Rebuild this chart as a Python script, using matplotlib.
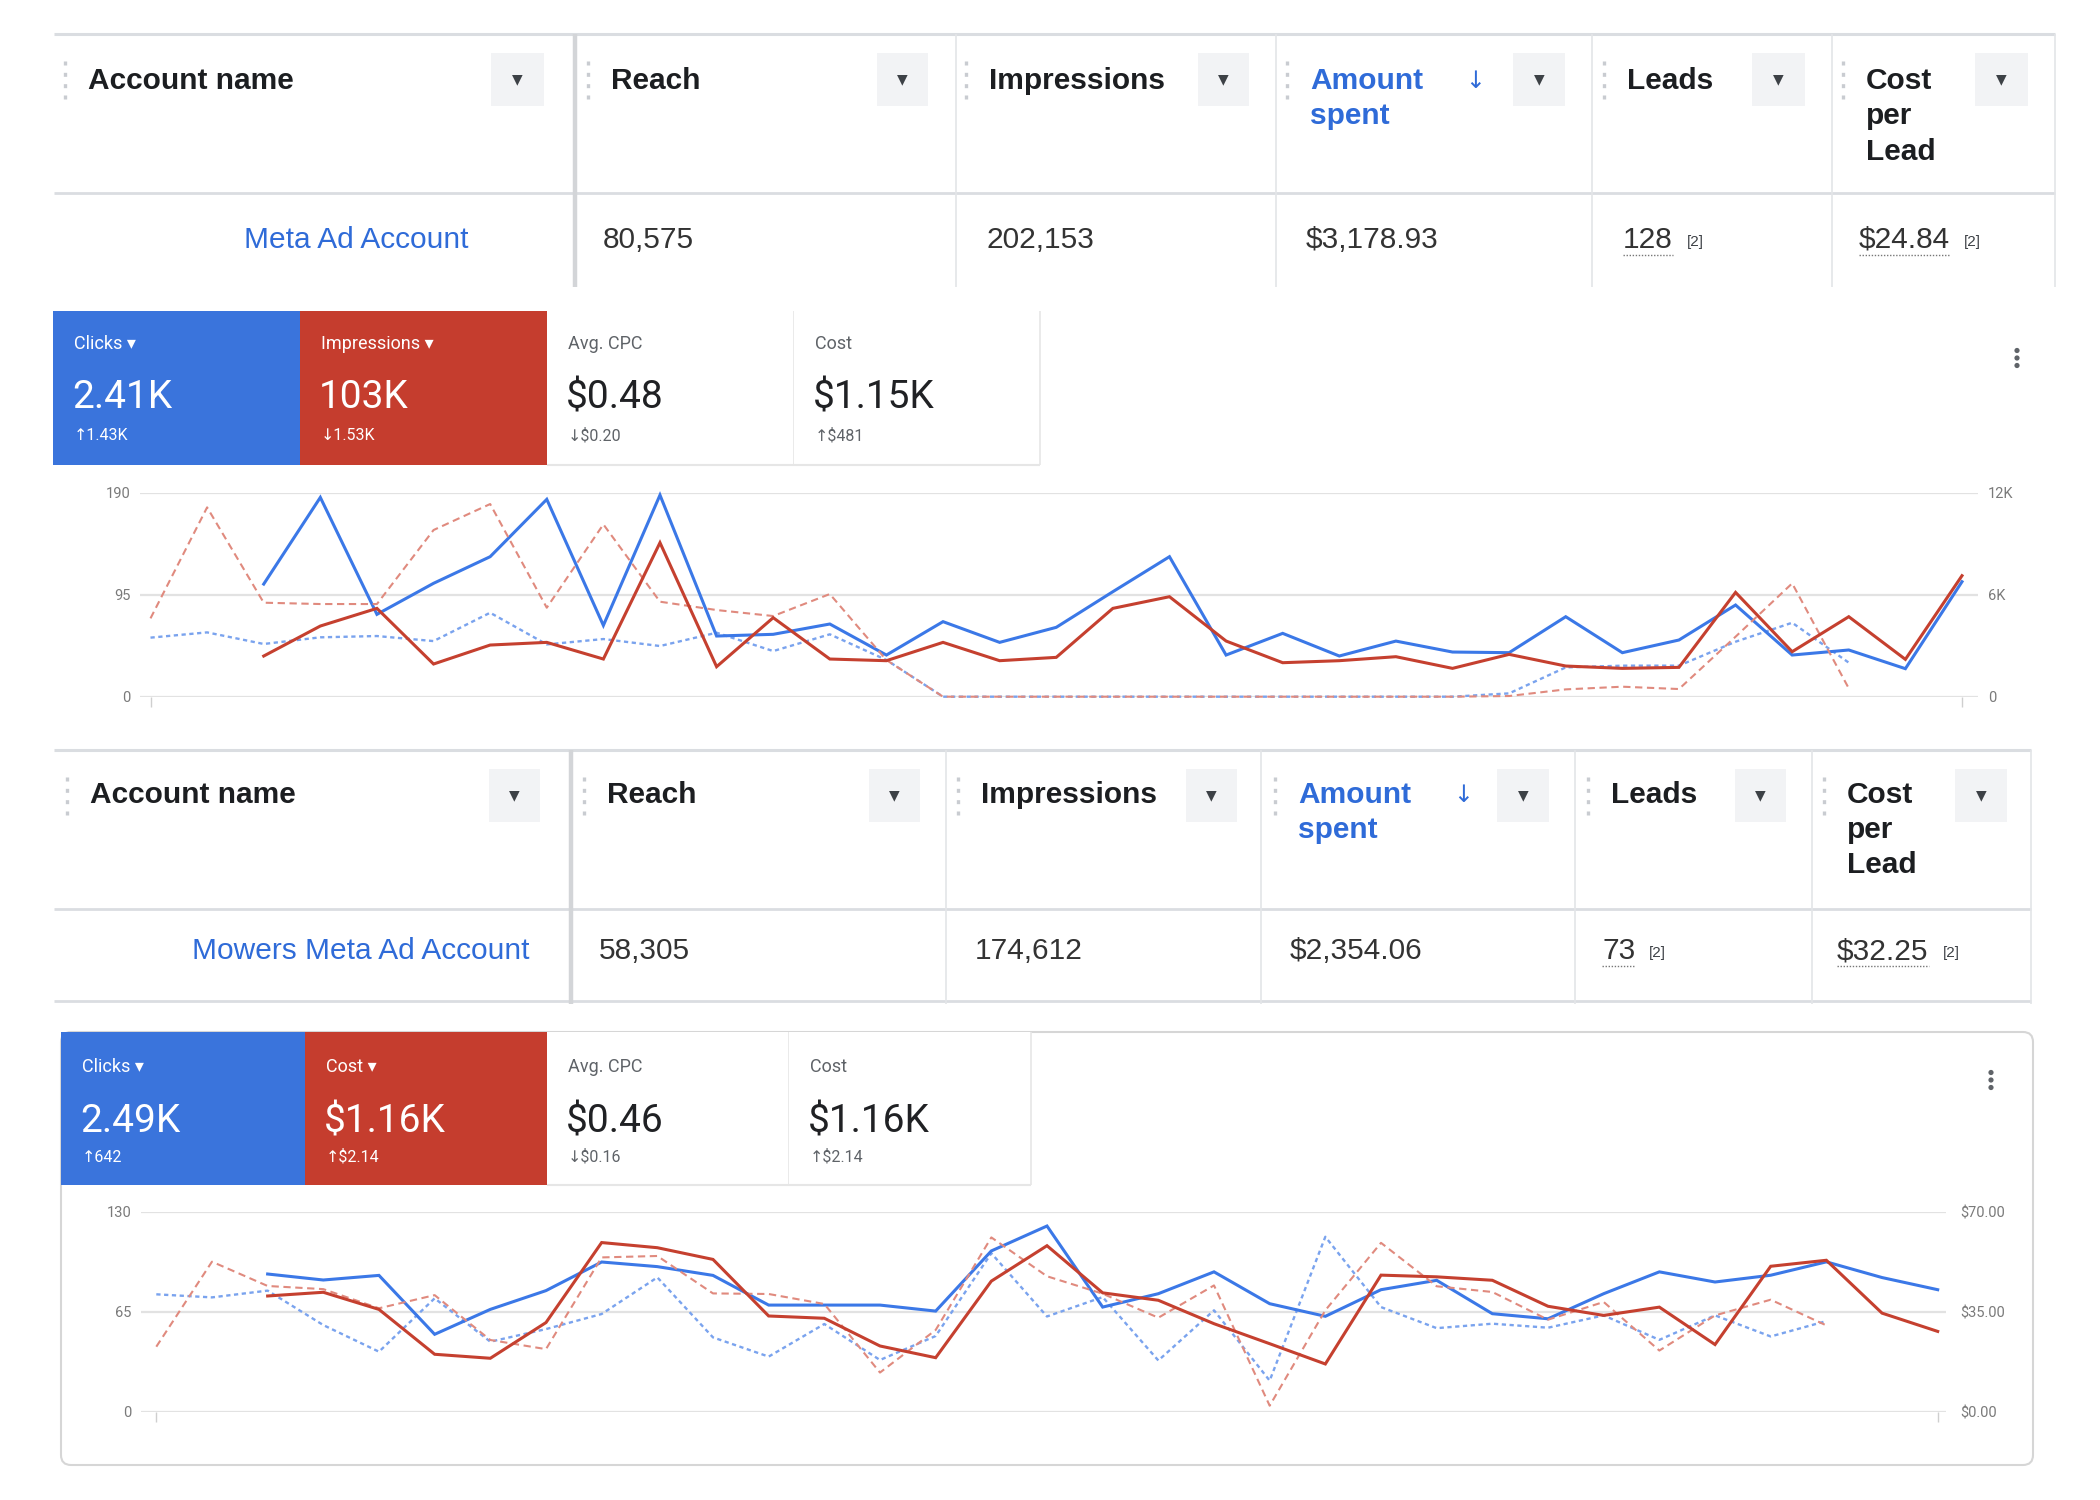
import matplotlib
matplotlib.use("Agg")
import matplotlib.pyplot as plt
from matplotlib.patches import Rectangle, FancyBboxPatch, Circle
import numpy as np

nan = np.nan

# ---------------- data ----------------
day_index = list(range(33))

# table 1
t1_headers = ["Account name", "Reach", "Impressions", "Amount\nspent", "Leads", "Cost\nper\nLead"]
t1_values = ["Meta Ad Account", "80,575", "202,153", "$3,178.93", "128", "$24.84"]
# table 2
t2_headers = ["Account name", "Reach", "Impressions", "Amount\nspent", "Leads", "Cost\nper\nLead"]
t2_values = ["Mowers Meta Ad Account", "58,305", "174,612", "$2,354.06", "73", "$32.25"]

# scorecards
s1_labels = ["Clicks \u25BE", "Impressions \u25BE", "Avg. CPC", "Cost"]
s1_values = ["2.41K", "103K", "$0.48", "$1.15K"]
s1_deltas = ["\u21911.43K", "\u21931.53K", "\u2193$0.20", "\u2191$481"]
s2_labels = ["Clicks \u25BE", "Cost \u25BE", "Avg. CPC", "Cost"]
s2_values = ["2.49K", "$1.16K", "$0.46", "$1.16K"]
s2_deltas = ["\u2191642", "\u2191$2.14", "\u2193$0.16", "\u2191$2.14"]

# chart 1: clicks (left axis) / impressions (right axis), current and previous period
c1_left_ticks = [0, 95, 190]
c1_left_labels = ["0", "95", "190"]
c1_right_ticks = [0, 6000, 12000]
c1_right_labels = ["0", "6K", "12K"]
c1_clicks = [nan, nan, 104.9, 185.6, 76.7, 105.6, 130.4, 183.8, 66.4, 187.8, 56.5,
             58.1, 67.7, 38.8, 69.9, 50.6, 64.6, 97.8, 130.4, 38.8, 59.0, 37.9,
             51.8, 41.6, 41.0, 74.5, 41.0, 52.8, 85.4, 38.8, 43.5, 26.1, 107.1]
c1_impr = [nan, nan, 2392, 4157, 5196, 1922, 3039, 3196, 2216, 9059, 1765,
           4647, 2216, 2118, 3196, 2118, 2314, 5196, 5882, 3275, 2000, 2118,
           2353, 1667, 2490, 1804, 1667, 1725, 6137, 2647, 4706, 2196, 7118]
c1_clicks_prev = [55.0, 59.9, 49.1, 55.3, 56.5, 51.8, 78.2, 48.7, 53.7, 47.2, 59.6,
                  42.5, 58.1, 34.2, 0, 0, 0, 0, 0, 0, 0, 0,
                  0, 0, 3.1, 27.3, 28.9, 28.9, 51.2, 68.9, 31.7, nan, nan]
c1_impr_prev = [4608, 11137, 5529, 5451, 5451, 9804, 11333, 5235, 10137, 5588, 5098,
                4745, 6039, 2157, 0, 0, 0, 0, 0, 0, 0, 0,
                0, 0, 40, 431, 588, 451, 3529, 6667, 490, nan, nan]

# chart 2: clicks (left axis) / cost (right axis)
c2_left_ticks = [0, 65, 130]
c2_left_labels = ["0", "65", "130"]
c2_right_ticks = [0, 35, 70]
c2_right_labels = ["$0.00", "$35.00", "$70.00"]
c2_clicks = [nan, nan, 89.5, 85.6, 88.6, 50.3, 66.5, 78.7, 97.3, 94.3, 88.6,
             69.3, 69.3, 69.3, 65.4, 104.5, 120.7, 68.0, 76.7, 90.9, 70.2, 62.0,
             79.3, 85.4, 63.7, 60.4, 76.7, 90.9, 84.3, 88.7, 97.4, 87.2, 79.3]
c2_cost = [nan, nan, 40.5, 41.8, 35.8, 20.1, 18.7, 31.2, 59.2, 57.4, 53.3,
           33.5, 32.7, 23.0, 18.9, 45.7, 58.1, 41.6, 39.0, 30.8, 23.8, 16.7,
           47.8, 47.2, 46.0, 36.9, 33.7, 36.6, 23.5, 50.9, 53.0, 34.5, 28.1]
c2_clicks_prev = [76.3, 74.3, 78.7, 56.3, 39.0, 73.7, 45.5, 53.7, 63.5, 87.3, 48.3,
                  35.8, 57.0, 33.6, 49.2, 103.0, 61.9, 74.5, 33.3, 65.9, 20.2, 113.7,
                  68.0, 54.3, 57.2, 54.6, 62.6, 46.7, 62.6, 48.9, 58.9, nan, nan]
c2_cost_prev = [22.75, 52.5, 44.0, 42.9, 36.2, 40.8, 25.1, 21.9, 54.0, 54.5, 41.4,
                41.2, 37.7, 13.7, 28.6, 61.0, 47.4, 41.3, 32.9, 44.2, 2.1, 35.5,
                59.1, 43.9, 41.9, 32.2, 38.4, 21.4, 33.7, 39.2, 30.2, nan, nan]

# ---------------- styles ----------------
W, H = 2100, 1500
BLUE_CARD = "#3a74dc"
RED_CARD = "#c53d2e"
BLUE_LINE = "#3b78e7"
RED_LINE = "#c5402f"
BLUE_PREV = "#7aa3ee"
RED_PREV = "#e08a7e"
LINK = "#2f6bd8"
TFONT = ["Liberation Sans", "DejaVu Sans"]
GFONT = ["Roboto", "DejaVu Sans"]
TSIZE = 21.5

plt.rcParams["font.family"] = GFONT

fig = plt.figure(figsize=(W / 100, H / 100), dpi=100)
fig.patch.set_facecolor("white")
bg = fig.add_axes([0, 0, 1, 1])
bg.set_xlim(0, W)
bg.set_ylim(H, 0)
bg.axis("off")


def hline(y, x0, x1, color="#dddfe2", lw=1.6):
    bg.plot([x0, x1], [y, y], color=color, lw=lw, solid_capstyle="butt")


def vline(x, y0, y1, color="#dddfe2", lw=1.2):
    bg.plot([x, x], [y0, y1], color=color, lw=lw, solid_capstyle="butt")


def dropdown(x0, x1, y0, y1):
    bg.add_patch(Rectangle((x0, y0), x1 - x0, y1 - y0, facecolor="#f2f3f5", edgecolor="none"))
    bg.text((x0 + x1) / 2, (y0 + y1) / 2, "\u25BC", fontsize=10, color="#3d4146",
            ha="center", va="center", family="DejaVu Sans")


def handle(x, y0, y1):
    bg.plot([x, x], [y0, y1], color="#c9ccd1", lw=2.4, linestyle=(0, (1.2, 2.2)))


def draw_table(top, head_bot, bottom, dividers, handles, drops, drop_y, head_y, line_gap,
               headers, values, name_right, val_x, data_y, bottom_line):
    left, right = 54, dividers[-1]
    hline(top, left, right, color="#dadde1", lw=2.2)
    hline(head_bot, left, right, color="#dadde1", lw=2.0)
    if bottom_line:
        hline(bottom, left, right, color="#dadde1", lw=2.0)
    for i, x in enumerate(dividers):
        if i == 0:
            vline(x, top, bottom + 3, color="#d3d5d8", lw=3.2)
        else:
            vline(x, top, bottom + 3, color="#e3e5e8", lw=1.2)
    for (a, b) in drops:
        dropdown(a, b, drop_y[0], drop_y[1])
    for i, (hx, htxt) in enumerate(zip(handles, headers)):
        handle(hx, drop_y[0] + 8, drop_y[1] - 6)
        color = LINK if "Amount" in htxt else "#1c1e21"
        lines = htxt.split("\n")
        for k, ln in enumerate(lines):
            bg.text(hx + 23, head_y + k * line_gap, ln, fontsize=TSIZE, fontweight="bold",
                    color=color, family=TFONT, ha="left", va="center")
        if "Amount" in htxt:
            bg.text(hx + 178, head_y, "\u2193", fontsize=17, color=LINK,
                    family="DejaVu Sans", ha="left", va="center")
    # data row
    bg.text(name_right, data_y, values[0], fontsize=TSIZE, color=LINK, family=TFONT,
            ha="right", va="center")
    renderer = fig.canvas.get_renderer()
    inv = bg.transData.inverted()
    for j, (vx, v) in enumerate(zip(val_x, values[1:])):
        t = bg.text(vx, data_y, v, fontsize=TSIZE, color="#333333", family=TFONT,
                    ha="left", va="center")
        if j >= 3:
            bb = t.get_window_extent(renderer=renderer)
            (xa, ya), (xb, yb) = inv.transform([[bb.x0, bb.y0], [bb.x1, bb.y1]])
            ylow = max(ya, yb)
            bg.plot([xa, xb], [ylow + 1, ylow + 1], color="#777777", lw=1.0,
                    linestyle=(0, (1, 1.2)))
            bg.text(xb + 14, data_y + 2, "[2]", fontsize=11, color="#3d4146",
                    family=TFONT, ha="left", va="center")


# ---- table 1 ----
draw_table(top=34, head_bot=193, bottom=284,
           dividers=[575, 956, 1276, 1592, 1832, 2055],
           handles=[65, 588, 966, 1287, 1604, 1843],
           drops=[(491, 544), (877, 928), (1198, 1249), (1513, 1565), (1752, 1805), (1975, 2028)],
           drop_y=(53, 106), head_y=81, line_gap=35.5,
           headers=t1_headers, values=t1_values, name_right=468,
           val_x=[603, 986, 1306, 1623, 1859], data_y=240, bottom_line=False)

# ---- table 2 ----
draw_table(top=750, head_bot=909, bottom=1001,
           dividers=[571, 946, 1261, 1575, 1812, 2031],
           handles=[67, 584, 958, 1275, 1588, 1824],
           drops=[(489, 540), (869, 920), (1186, 1237), (1497, 1549), (1735, 1786), (1955, 2007)],
           drop_y=(769, 822), head_y=795, line_gap=35,
           headers=t2_headers, values=t2_values, name_right=530,
           val_x=[599, 975, 1290, 1602, 1837], data_y=951, bottom_line=True)


# ---- scorecards ----
def scorecards(xs, top, bot, labels, values, deltas, lab_y, val_y, del_y):
    fills = [BLUE_CARD, RED_CARD, "white", "white"]
    for i in range(4):
        x0, x1 = xs[i], xs[i + 1]
        bg.add_patch(Rectangle((x0, top), x1 - x0, bot - top, facecolor=fills[i],
                               edgecolor="none", zorder=2))
        if i >= 2:
            vline(x1, top, bot, color="#e6e6e6", lw=1.2)
        dark = i >= 2
        c_lab = "#5f6368" if dark else "white"
        c_val = "#202124" if dark else "white"
        c_del = "#5f6368" if dark else "white"
        bg.text(x0 + 21, lab_y, labels[i], fontsize=13, color=c_lab, ha="left",
                va="center", zorder=3)
        bg.text(x0 + 19, val_y, values[i], fontsize=28, color=c_val, ha="left",
                va="center", zorder=3)
        bg.text(x0 + 21, del_y, deltas[i], fontsize=11.5, color=c_del, ha="left",
                va="center", zorder=3)
    hline(bot, xs[2], xs[4], color="#e6e6e6", lw=1.5)


def kebab(x, y):
    for dy in (-7.5, 0, 7.5):
        bg.add_patch(Circle((x, y + dy), 2.6, facecolor="#5f6368", edgecolor="none"))


scorecards([53, 300, 547, 794, 1040], 311, 465, s1_labels, s1_values, s1_deltas, 344, 398, 436)
kebab(2017, 358)

# card 2 border
bg.add_patch(FancyBboxPatch((61, 1032), 2033 - 61, 1465 - 1032,
                            boxstyle="round,pad=0,rounding_size=10",
                            facecolor="none", edgecolor="#d6d6d6", lw=1.5, zorder=1))
scorecards([61, 305, 547, 789, 1031], 1032, 1185, s2_labels, s2_values, s2_deltas, 1067, 1122, 1157)
kebab(1991, 1080)


# ---- line charts ----
def chart(x0, x1, ytop, ybot, first_px, last_px, lt, ll, rt, rl, left_cur, right_cur,
          left_prev, right_prev, lpad, rpad):
    ax = fig.add_axes([x0 / W, 1 - ybot / H, (x1 - x0) / W, (ybot - ytop) / H])
    unit = (last_px - first_px) / (len(day_index) - 1)
    ax.set_xlim(-(first_px - x0) / unit, day_index[-1] + (x1 - last_px) / unit)
    ax.set_ylim(lt[0], lt[-1])
    ax.patch.set_alpha(0)
    for s in ax.spines.values():
        s.set_visible(False)
    ax.set_yticks(lt)
    ax.set_yticklabels(ll)
    ax.grid(axis="y", color="#e2e2e2", lw=1.6)
    ax.set_axisbelow(True)
    ax.tick_params(axis="y", length=0, pad=lpad, labelsize=10.5, labelcolor="#7a7a7a")
    ax.set_xticks([day_index[0], day_index[-1]])
    ax.set_xticklabels(["", ""])
    ax.tick_params(axis="x", length=7, width=1.0, color="#cfcfcf")
    ax2 = ax.twinx()
    ax2.set_ylim(rt[0], rt[-1])
    ax2.patch.set_alpha(0)
    for s in ax2.spines.values():
        s.set_visible(False)
    ax2.set_yticks(rt)
    ax2.set_yticklabels(rl)
    ax2.tick_params(axis="y", length=0, pad=rpad, labelsize=10.5, labelcolor="#7a7a7a")
    x = np.array(day_index)
    ax.plot(x, left_prev, color=BLUE_PREV, lw=1.7, linestyle=(0, (1.8, 1.5)), clip_on=False)
    ax2.plot(x, right_prev, color=RED_PREV, lw=1.5, linestyle=(0, (3.5, 2.2)), clip_on=False)
    ax.plot(x, left_cur, color=BLUE_LINE, lw=2.2, clip_on=False, solid_joinstyle="miter")
    ax2.plot(x, right_cur, color=RED_LINE, lw=2.2, clip_on=False, solid_joinstyle="miter")
    return ax, ax2


chart(140, 1978, 492.7, 696.7, 150.5, 1962, c1_left_ticks, c1_left_labels,
      c1_right_ticks, c1_right_labels, c1_clicks, c1_impr, c1_clicks_prev, c1_impr_prev,
      lpad=7, rpad=7)
chart(141, 1946, 1211.7, 1411.7, 156.3, 1937.7, c2_left_ticks, c2_left_labels,
      c2_right_ticks, c2_right_labels, c2_clicks, c2_cost, c2_clicks_prev, c2_cost_prev,
      lpad=7, rpad=10)

fig.savefig("out.png", dpi=100, facecolor="white")
